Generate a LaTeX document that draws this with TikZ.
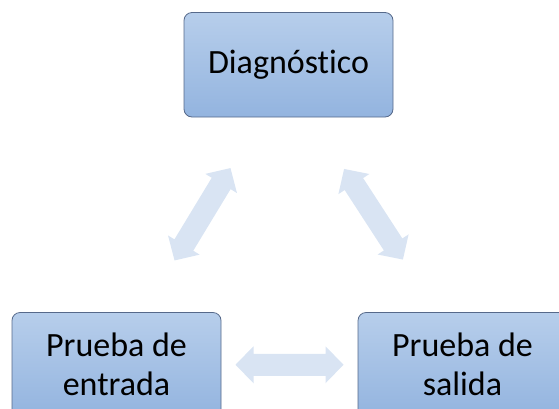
\documentclass[tikz,border=0pt]{standalone}
\usepackage{fontspec}
\setmainfont[Ligatures=NoCommon]{Carlito}
\usetikzlibrary{calc}
\definecolor{boxtop}{HTML}{B7CEEB}
\definecolor{boxbot}{HTML}{93B4DF}
\definecolor{boxline}{HTML}{56698A}
\definecolor{arrfill}{HTML}{D9E4F3}
\tikzset{
  stagebox/.style={rectangle, rounded corners=8pt, draw=boxline, line width=0.8pt,
    top color=boxtop, bottom color=boxbot, minimum width=209pt, minimum height=104.5pt,
    inner sep=0pt, align=center, font=\fontsize{34}{39}\selectfont},
  pics/barrow/.style={code={
    \fill[arrfill]
      (-54pt,0) -- (-36pt,18.5pt) -- (-36pt,11pt) -- (36pt,11pt) -- (36pt,18.5pt)
      -- (54pt,0) -- (36pt,-18.5pt) -- (36pt,-11pt) -- (-36pt,-11pt) -- (-36pt,-18.5pt) -- cycle;
  }}
}
\begin{document}
\begin{tikzpicture}[x=1pt,y=-1pt]
\useasboundingbox (0,0) rectangle (559,408);
\clip (0,0) rectangle (559,408);
\node[stagebox] (diag) at (288.5,64.75) {Diagnóstico};
\node[stagebox] (entr) at (116.5,364.75) {Prueba de\\entrada};
\node[stagebox] (sal) at (462.5,364.75) {Prueba de\\salida};
\coordinate (a1) at ($(diag)!0.5!(entr)$);
\coordinate (a2) at ($(diag)!0.5!(sal)$);
\coordinate (a3) at ($(entr)!0.5!(sal)$);
\pic[rotate=58.8] at ($(a1)+(0,-0.5)$) {barrow};
\pic[rotate=-57] at ($(a2)+(-2,-0.5)$) {barrow};
\pic at (a3) {barrow};
\end{tikzpicture}
\end{document}
